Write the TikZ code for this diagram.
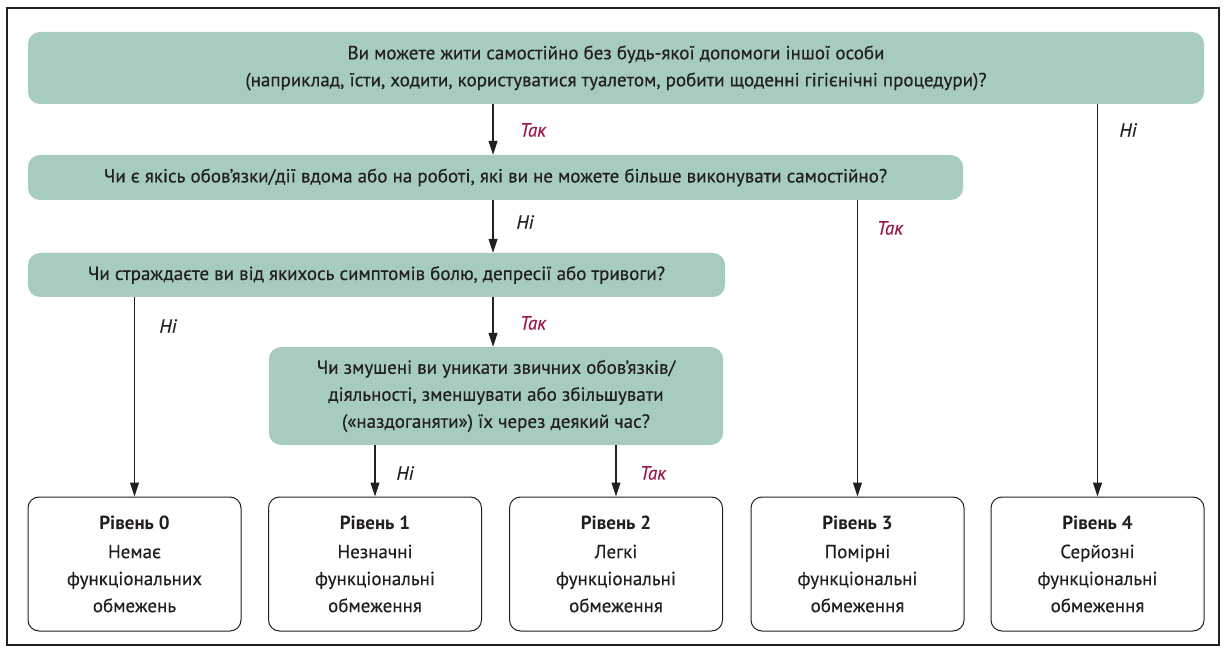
\documentclass[tikz,border=0pt]{standalone}
\usepackage{fontspec}
\setmainfont{PT Sans}[UprightFeatures={FakeBold=0.4}, ItalicFeatures={FakeBold=0.4}]
\usetikzlibrary{arrows.meta}

\definecolor{qgreen}{RGB}{166,204,194}
\definecolor{yesred}{RGB}{155,25,75}
\definecolor{ink}{RGB}{35,31,32}
\newcommand\qfont{\fontsize{19}{27}\selectfont}

\begin{document}
\begin{tikzpicture}[x=1pt,y=-1pt,
	question/.style={fill=qgreen, rounded corners=12pt, align=center, text=ink, font=\qfont, inner sep=0pt},
	level/.style={draw=ink, line width=1pt, rounded corners=11pt, minimum width=213pt, minimum height=134pt, align=center, text=ink, font=\qfont, inner sep=0pt},
	arr/.style={-{Triangle[length=14pt,width=9pt]}, line width=1.1pt, draw=ink},
	yes/.style={text=yesred, font=\qfont\itshape},
	no/.style={text=ink, font=\qfont\itshape}]
	\useasboundingbox (0,0) rectangle (1226,652);
	\draw[ink, line width=1.2pt] (7,8) rectangle (1219,645);

	% questions
	\node[question, minimum width=1176pt, minimum height=72pt] (q1) at (616,68)
		{Ви можете жити самостійно без будь-якої допомоги іншої особи\\(наприклад, їсти, ходити, користуватися туалетом, робити щоденні гігієнічні процедури)?};
	\node[question, minimum width=935pt, minimum height=45pt] (q2) at (495.5,177.5)
		{Чи є якісь обов’язки/дії вдома або на роботі, які ви не можете більше виконувати самостійно?};
	\node[question, minimum width=697pt, minimum height=44pt] (q3) at (376.5,275)
		{Чи страждаєте ви від якихось симптомів болю, депресії або тривоги?};
	\node[question, minimum width=454pt, minimum height=98pt] (q4) at (496,396)
		{Чи змушені ви уникати звичних обов’язків/\\діяльності, зменшувати або збільшувати\\(«наздоганяти») їх через деякий час?};

	% levels
	\node[level] (l0) at (134.5,564) {\textbf{Рівень 0}\\[2pt]Немає\\функціональних\\обмежень};
	\node[level] (l1) at (375,564) {\textbf{Рівень 1}\\[2pt]Незначні\\функціональні\\обмеження};
	\node[level] (l2) at (616,564) {\textbf{Рівень 2}\\[2pt]Легкі\\функціональні\\обмеження};
	\node[level] (l3) at (857.5,564) {\textbf{Рівень 3}\\[2pt]Помірні\\функціональні\\обмеження};
	\node[level] (l4) at (1097.5,564) {\textbf{Рівень 4}\\[2pt]Серйозні\\функціональні\\обмеження};

	\coordinate (spine) at (493,0);

	% connectors
	\draw[arr] (q1.south -| spine) -- (q2.north -| spine);
	\draw[arr] (q1.south -| l4) -- (l4);
	\draw[arr] (q2.south -| spine) -- (q3.north -| spine);
	\draw[arr] (q2.south -| l3) -- (l3);
	\draw[arr] (q3.south -| spine) -- (q4.north -| spine);
	\draw[arr] (q3.south -| l0) -- (l0);
	\draw[arr] (q4.south -| l1) -- (l1);
	\draw[arr] (q4.south -| l2) -- (l2);

	% answers
	\node[yes] (a1) at (533,130) {Так};
	\node[no] (a2) at (1128,130) {Ні};
	\node[no] (a3) at (525,222) {Ні};
	\node[yes] (a4) at (890,228) {Так};
	\node[no] (a5) at (168,326) {Ні};
	\node[yes] (a6) at (533,323) {Так};
	\node[no] (a7) at (405,473) {Ні};
	\node[yes] (a8) at (653,473) {Так};
\end{tikzpicture}
\end{document}
